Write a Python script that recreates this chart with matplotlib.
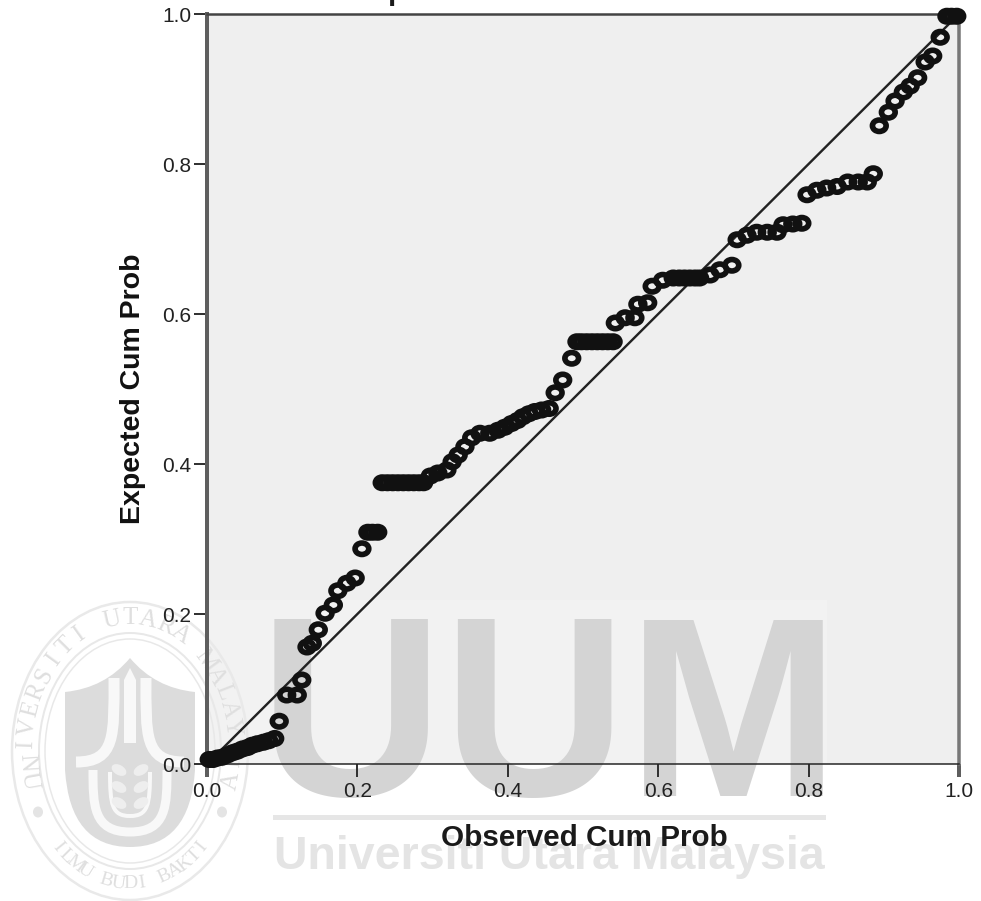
import numpy as np
import matplotlib
matplotlib.use('Agg')
import matplotlib.pyplot as plt
from matplotlib.markers import MarkerStyle
from matplotlib.patches import Ellipse, PathPatch, Rectangle, Polygon
from matplotlib.path import Path
from matplotlib.transforms import Affine2D

plt.rcParams['font.family'] = ['Liberation Sans', 'DejaVu Sans']

# observed / expected cumulative probabilities
observed = [0.003, 0.008, 0.014, 0.02, 0.027, 0.034, 0.04, 0.047, 0.054, 0.06, 0.067, 0.075, 0.082, 0.09,
            0.096, 0.106, 0.12, 0.126, 0.133, 0.14, 0.148, 0.157, 0.168, 0.174, 0.186, 0.197, 0.206,
            0.214, 0.22, 0.227,
            0.233, 0.24, 0.247, 0.254, 0.261, 0.268, 0.275, 0.282, 0.288,
            0.297, 0.307, 0.319, 0.326, 0.334, 0.343, 0.352, 0.363, 0.376, 0.387,
            0.396, 0.405, 0.413, 0.42, 0.428, 0.436, 0.445, 0.455,
            0.463, 0.473, 0.485,
            0.492, 0.498, 0.505, 0.512, 0.519, 0.526, 0.533, 0.54,
            0.543, 0.556, 0.569, 0.573, 0.586, 0.592, 0.606,
            0.62, 0.628, 0.635, 0.642, 0.649, 0.655, 0.669, 0.682, 0.698,
            0.705, 0.718, 0.731, 0.745, 0.758, 0.766, 0.779, 0.791,
            0.798, 0.811, 0.824, 0.838, 0.852, 0.866, 0.878, 0.886,
            0.894, 0.906, 0.915, 0.926, 0.935, 0.945, 0.955, 0.965, 0.975,
            0.984, 0.99, 0.997]
expected = [0.006, 0.006, 0.008, 0.009, 0.012, 0.015, 0.017, 0.02, 0.022, 0.025, 0.027, 0.029, 0.031, 0.034,
            0.057, 0.092, 0.092, 0.112, 0.156, 0.161, 0.179, 0.201, 0.212, 0.231, 0.241, 0.248, 0.287,
            0.309, 0.309, 0.309,
            0.375, 0.375, 0.375, 0.375, 0.375, 0.375, 0.375, 0.375, 0.375,
            0.384, 0.388, 0.392, 0.403, 0.412, 0.423, 0.435, 0.441, 0.441, 0.445,
            0.449, 0.454, 0.458, 0.463, 0.467, 0.47, 0.472, 0.474,
            0.495, 0.512, 0.541,
            0.563, 0.563, 0.563, 0.563, 0.563, 0.563, 0.563, 0.563,
            0.588, 0.595, 0.595, 0.613, 0.615, 0.637, 0.645,
            0.648, 0.648, 0.648, 0.648, 0.648, 0.648, 0.652, 0.659, 0.665,
            0.699, 0.705, 0.709, 0.709, 0.709, 0.719, 0.72, 0.721,
            0.759, 0.765, 0.768, 0.77, 0.776, 0.776, 0.776, 0.787,
            0.851, 0.869, 0.884, 0.896, 0.904, 0.915, 0.936, 0.944, 0.969,
            0.997, 0.997, 0.997]
tick_values = [0.0, 0.2, 0.4, 0.6, 0.8, 1.0]
tick_labels = ['0.0', '0.2', '0.4', '0.6', '0.8', '1.0']

W, H = 981, 901
fig = plt.figure(figsize=(W / 100, H / 100), dpi=100, facecolor='white')


def px(v):
    return v * 72 / 100


# pixel layer under the chart: plot background and the watermark
wm = fig.add_axes([0, 0, 1, 1], zorder=0)
wm.set_xlim(0, W)
wm.set_ylim(H, 0)
wm.axis('off')
WM = '#dcdcdc'
wm.add_patch(Rectangle((207, 14), 752, 750, fc='#efefef', ec='none'))
wm.add_patch(Rectangle((207, 600), 620, 164, fc='#f2f2f2', ec='none'))
wm.text(549.5, 796, 'UUM', fontsize=184, fontweight='bold', color='#d4d4d4', ha='center', va='baseline')
wm.add_patch(Rectangle((273, 815), 553, 5, fc='#e6e6e6', ec='none'))
wm.text(549.5, 869, 'Universiti Utara Malaysia', fontsize=33.5, fontweight='bold', color='#e4e4e4',
        ha='center', va='baseline')

# seal
cx, cy = 130, 751
wm.add_patch(Ellipse((cx, cy), 236, 298, fc='none', ec='#e9e9e9', lw=px(2.5)))
wm.add_patch(Ellipse((cx, cy), 182, 236, fc='none', ec='#e8e8e8', lw=px(2)))
wm.add_patch(Ellipse((cx, cy), 170, 224, fc='none', ec='#e8e8e8', lw=px(1.5)))
shield = [(Path.MOVETO, (65, 692)), (Path.CURVE3, (105, 688)), (Path.LINETO, (130, 658)),
          (Path.CURVE3, (155, 688)), (Path.LINETO, (195, 692)), (Path.LINETO, (195, 770)),
          (Path.CURVE3, (190, 847)), (Path.LINETO, (130, 847)), (Path.CURVE3, (70, 847)),
          (Path.LINETO, (65, 770)), (Path.CLOSEPOLY, (65, 692))]
codes, verts = zip(*shield)
wm.add_patch(PathPatch(Path(verts, codes), fc=WM, ec='none'))


def white_curve(points, codes, lw):
    wm.add_patch(PathPatch(Path(points, codes), fc='none', ec='#f8f8f8', lw=px(lw), capstyle='butt'))


M, C = Path.MOVETO, Path.CURVE4
wm.add_patch(Polygon([(124, 680), (130, 668), (136, 680), (136, 743), (124, 743)], fc='#f8f8f8', ec='none'))
for sign in (-1, 1):
    white_curve([(cx + sign * 16, 678), (cx + sign * 16, 735), (cx + sign * 14, 762), (cx + sign * 54, 762)],
                [M, C, C, C], 11)
white_curve([(93, 770), (93, 805), (93, 832), (130, 832), (167, 832), (167, 805), (167, 770)],
            [M, C, C, C, C, C, C], 9)
white_curve([(110, 772), (110, 805), (112, 816), (130, 816), (148, 816), (150, 805), (150, 772)],
            [M, C, C, C, C, C, C], 4)
for yy in (770, 787, 803):
    for sign in (-1, 1):
        wm.add_patch(Ellipse((cx + sign * 11, yy), 16, 10, angle=sign * -30, fc='#eeeeee', ec='none'))


def arc_text(text, t_start, t_end, size, color='#dfdfdf'):
    # letters evenly spaced by arc length along the seal's text ellipse
    a, b = 104, 133
    ts = np.radians(np.linspace(t_start, t_end, 500))
    xs = cx + a * np.sin(ts)
    ys = cy - b * np.cos(ts)
    dist = np.concatenate([[0], np.cumsum(np.hypot(np.diff(xs), np.diff(ys)))])
    for i, ch in enumerate(text):
        t = np.interp(dist[-1] * i / (len(text) - 1), dist, ts)
        angle = np.degrees(np.arctan2(b * np.sin(t), a * np.cos(t)))
        if np.cos(t) < 0:
            angle += 180
        wm.text(cx + a * np.sin(t), cy - b * np.cos(t), ch, fontsize=size, family='Liberation Serif',
                color=color, ha='center', va='center', rotation=-angle)


arc_text('UNIVERSITI UTARA MALAYSIA', -103, 103, 18)
arc_text('ILMU BUDI BAKTI', 224, 136, 14)
for dot_x in (38, 222):
    wm.add_patch(Ellipse((dot_x, 812), 10, 11, fc='#e4e4e4', ec='none'))

# chart
ax = fig.add_axes([207 / W, 1 - 764 / H, 752 / W, 750 / H], zorder=1)
ax.patch.set_visible(False)
ax.set_xlim(0, 1)
ax.set_ylim(0, 1)
ax.plot([0, 1], [0, 1], color='#222222', lw=px(2.4), zorder=2)
marker = MarkerStyle('o', transform=Affine2D().scale(1.2, 1.0))
ax.scatter(observed, expected, s=68, marker=marker, facecolors='none', edgecolors='#111111',
           linewidths=px(5.6), clip_on=False, zorder=3)

ax.set_xticks(tick_values)
ax.set_xticklabels(tick_labels)
ax.set_yticks(tick_values)
ax.set_yticklabels(tick_labels)
ax.tick_params(axis='x', pad=px(5))
ax.tick_params(axis='y', pad=px(3))
ax.tick_params(axis='both', length=px(13), width=px(2), color='#333333', labelsize=15, labelcolor='#222222')
ax.spines['left'].set(linewidth=px(4), color='#5e5e5e')
ax.spines['right'].set(linewidth=px(3.5), color='#777777')
ax.spines['top'].set(linewidth=px(2.5), color='#444444')
ax.spines['bottom'].set(linewidth=px(1.5), color='#222222')
for tick in (ax.xaxis.get_major_ticks()[0], ax.xaxis.get_major_ticks()[-1]):
    tick.tick1line.set_markeredgewidth(px(4))
    tick.tick1line.set_markeredgecolor('#5e5e5e')

fig.text(584 / W, 1 - 838 / H, 'Observed Cum Prob', fontsize=21.3, fontweight='bold', color='#1a1a1a',
         ha='center', va='center')
fig.text(140 / W, 1 - 389 / H, 'Expected Cum Prob', fontsize=20.5, fontweight='bold', color='#111111',
         rotation=90, ha='center', va='baseline', rotation_mode='anchor')
fig.text(351 / W, 1 + 0.5 / H, 'Dependent Variable: KMS', fontsize=21, fontweight='bold', color='#1a1a1a',
         ha='left', va='baseline')

fig.savefig('out.png', dpi=100)
